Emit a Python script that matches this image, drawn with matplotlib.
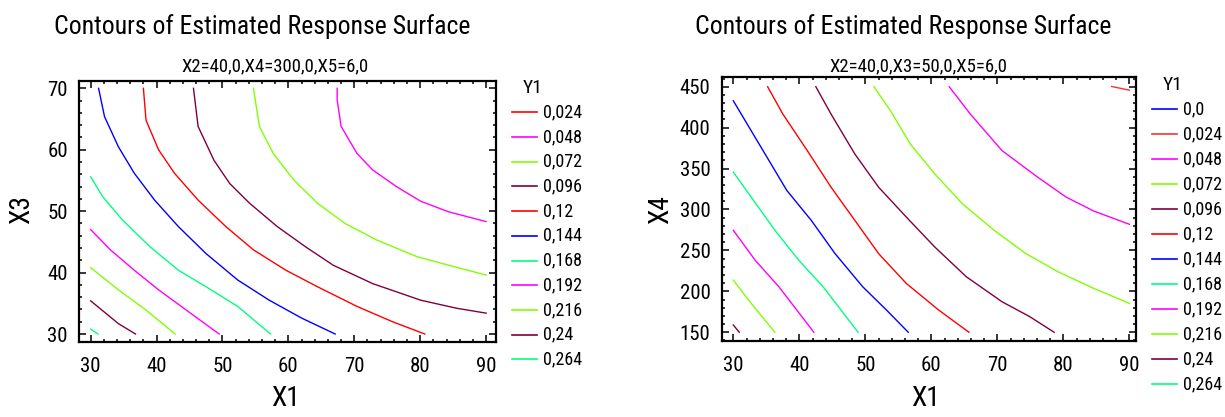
import matplotlib
matplotlib.use("Agg")
import matplotlib.pyplot as plt
from matplotlib.lines import Line2D
from matplotlib.ticker import MultipleLocator

FONT = ['Roboto Condensed', 'Archivo Narrow', 'PT Sans Narrow', 'IBM Plex Sans Condensed', 'Liberation Sans']
plt.rcParams['font.family'] = FONT

# colours of the contour cycle
RED, MAG, GRN, MAR, BLU, SPR = '#ff0000', '#ff00ff', '#80ff00', '#800040', '#0000ff', '#00ff80'

# ---- left plot: X1 vs X3 (X2=40, X4=300, X5=6) ----
left_levels = ['0,024', '0,048', '0,072', '0,096', '0,12', '0,144', '0,168', '0,192', '0,216', '0,24', '0,264']
left_colors = [RED, MAG, GRN, MAR, RED, BLU, SPR, MAG, GRN, MAR, SPR]
left_x = {
    '0,048': [67.4, 67.4, 68.0, 70.4, 72.8, 76.4, 80.1, 84.3, 90.0],
    '0,072': [54.7, 55.6, 57.7, 60.8, 64.4, 68.6, 73.4, 79.5, 84.3, 90.0],
    '0,096': [45.6, 46.3, 48.7, 51.1, 54.1, 58.3, 62.6, 66.8, 72.8, 80.1, 85.5, 90.0],
    '0,12': [38.0, 38.4, 40.3, 42.7, 46.3, 50.5, 54.7, 59.6, 64.4, 70.4, 75.8, 80.7],
    '0,144': [31.2, 32.1, 34.2, 36.6, 39.7, 43.3, 47.5, 52.3, 57.1, 62.0, 67.1],
    '0,168': [30.0, 31.8, 34.8, 39.0, 43.3, 47.5, 52.3, 57.3],
    '0,192': [30.0, 33.0, 36.6, 40.3, 44.5, 49.5],
    '0,216': [30.0, 34.2, 38.4, 42.8],
    '0,24': [30.0, 34.2, 36.8],
    '0,264': [30.0, 31.1],
}
left_y = {
    '0,048': [70.0, 68.1, 63.8, 59.4, 56.7, 54.0, 51.6, 49.9, 48.3],
    '0,072': [70.0, 63.8, 59.4, 55.1, 51.3, 48.0, 45.3, 42.6, 41.2, 39.6],
    '0,096': [70.0, 63.8, 58.3, 54.5, 51.3, 47.5, 44.2, 41.2, 38.2, 35.5, 34.2, 33.4],
    '0,12': [70.0, 64.8, 60.0, 56.2, 51.8, 47.5, 43.7, 40.4, 37.7, 34.5, 32.0, 30.0],
    '0,144': [70.0, 65.4, 60.5, 56.2, 51.8, 47.5, 43.1, 38.8, 35.5, 32.6, 30.0],
    '0,168': [55.6, 52.4, 48.6, 44.2, 40.4, 37.7, 34.5, 30.0],
    '0,192': [47.0, 43.7, 40.4, 37.2, 33.9, 30.0],
    '0,216': [40.8, 37.2, 33.9, 30.0],
    '0,24': [35.4, 31.7, 30.0],
    '0,264': [30.8, 30.0],
}

# ---- right plot: X1 vs X4 (X2=40, X3=50, X5=6) ----
right_levels = ['0,0', '0,024', '0,048', '0,072', '0,096', '0,12', '0,144', '0,168', '0,192', '0,216', '0,24', '0,264']
right_colors = [BLU, '#ff3030', MAG, GRN, MAR, RED, BLU, SPR, MAG, GRN, MAR, SPR]
right_x = {
    '0,024': [87.3, 90.0],
    '0,048': [62.7, 65.9, 70.7, 76.1, 80.4, 84.6, 90.0],
    '0,072': [51.3, 53.8, 56.8, 60.5, 64.7, 69.5, 74.3, 79.2, 84.6, 90.0],
    '0,096': [42.5, 44.8, 48.4, 52.0, 56.2, 60.5, 65.3, 70.7, 74.9, 78.6],
    '0,12': [35.2, 37.5, 41.2, 44.8, 48.4, 52.0, 56.2, 61.1, 65.7],
    '0,144': [30.0, 32.1, 35.1, 38.1, 41.8, 45.4, 49.6, 53.2, 56.5],
    '0,168': [30.0, 32.7, 36.3, 39.9, 43.6, 48.9],
    '0,192': [30.0, 33.3, 36.9, 42.2],
    '0,216': [30.0, 32.7, 36.3],
    '0,24': [30.0, 30.9],
}
right_y = {
    '0,024': [450.3, 445.8],
    '0,048': [450.0, 416.6, 372.0, 339.5, 315.2, 298.1, 281.9],
    '0,072': [450.0, 420.7, 380.1, 343.6, 307.0, 274.6, 246.2, 223.9, 203.6, 185.3],
    '0,096': [450.0, 416.6, 367.9, 327.3, 290.8, 254.3, 217.8, 187.3, 169.1, 150.0],
    '0,12': [450.0, 416.6, 372.0, 327.3, 286.8, 246.2, 209.7, 177.2, 150.0],
    '0,144': [432.8, 404.4, 363.9, 323.3, 286.8, 246.2, 205.6, 177.2, 150.0],
    '0,168': [345.6, 315.2, 274.6, 238.1, 205.6, 150.0],
    '0,192': [274.6, 238.1, 205.6, 150.0],
    '0,216': [213.7, 185.3, 150.0],
    '0,24': [158.9, 150.0],
}

W, H = 1225, 417
fig = plt.figure(figsize=(W / 100, H / 100), dpi=100)


def fx(px):
    return px / W


def fy(py):
    return 1 - py / H


def draw_panel(rect, levels, colors, xs, ys, xlim, ylim, ymaj, ymin, ylabel,
               title_x, sub_x, subtitle, ylab_x, xlab_x, leg_x, leg_y0, leg_step):
    ax = fig.add_axes(rect)
    for lev, col in zip(levels, colors):
        if lev in xs:
            ax.plot(xs[lev], ys[lev], color=col, lw=1.0)
    ax.set_xlim(*xlim)
    ax.set_ylim(*ylim)
    ax.xaxis.set_major_locator(MultipleLocator(10))
    ax.xaxis.set_minor_locator(MultipleLocator(2))
    ax.yaxis.set_major_locator(MultipleLocator(ymaj))
    ax.yaxis.set_minor_locator(MultipleLocator(ymin))
    ax.tick_params(which='both', direction='in', top=True, right=True, width=1.1, labelsize=15)
    ax.tick_params(which='major', length=5)
    ax.tick_params(which='minor', length=2.5)
    ax.tick_params(axis='x', pad=11)
    ax.tick_params(axis='y', pad=8)
    for s in ax.spines.values():
        s.set_linewidth(1.6)
    fig.text(fx(title_x), fy(27), 'Contours of Estimated Response Surface', ha='center', va='center', fontsize=18.5)
    fig.text(fx(sub_x), fy(66), subtitle, ha='center', va='center', fontsize=13.5)
    fig.text(fx(ylab_x), fy(210), ylabel, ha='center', va='center', fontsize=20, rotation=90)
    fig.text(fx(xlab_x), fy(399), 'X1', ha='center', va='center', fontsize=20)
    # legend
    fig.text(fx(leg_x + 11), fy(leg_y0 - 24), 'Y1', ha='left', va='center', fontsize=14)
    for i, (lev, col) in enumerate(zip(levels, colors)):
        yy = fy(leg_y0 + i * leg_step)
        fig.add_artist(Line2D([fx(leg_x), fx(leg_x + 25)], [yy, yy], color=col, lw=1.2))
        fig.text(fx(leg_x + 31), yy, lev, ha='left', va='center', fontsize=13)
    return ax


draw_panel([fx(79), fy(342), fx(496) - fx(79), fy(80.7) - fy(342)],
           left_levels, left_colors, left_x, left_y,
           (28.23, 91.5), (28.7, 71.24), 10, 2, 'X3',
           262, 275, 'X2=40,0,X4=300,0,X5=6,0', 22, 285, 512, 112.3, 24.7)

draw_panel([fx(721.7), fy(340.7), fx(1136) - fx(721.7), fy(77.3) - fy(340.7)],
           right_levels, right_colors, right_x, right_y,
           (28.24, 91.0), (139.7, 461.5), 50, 10, 'X4',
           903, 918, 'X2=40,0,X3=50,0,X5=6,0', 661, 926, 1152, 109.3, 25.0)

fig.savefig('out.png', dpi=100)
